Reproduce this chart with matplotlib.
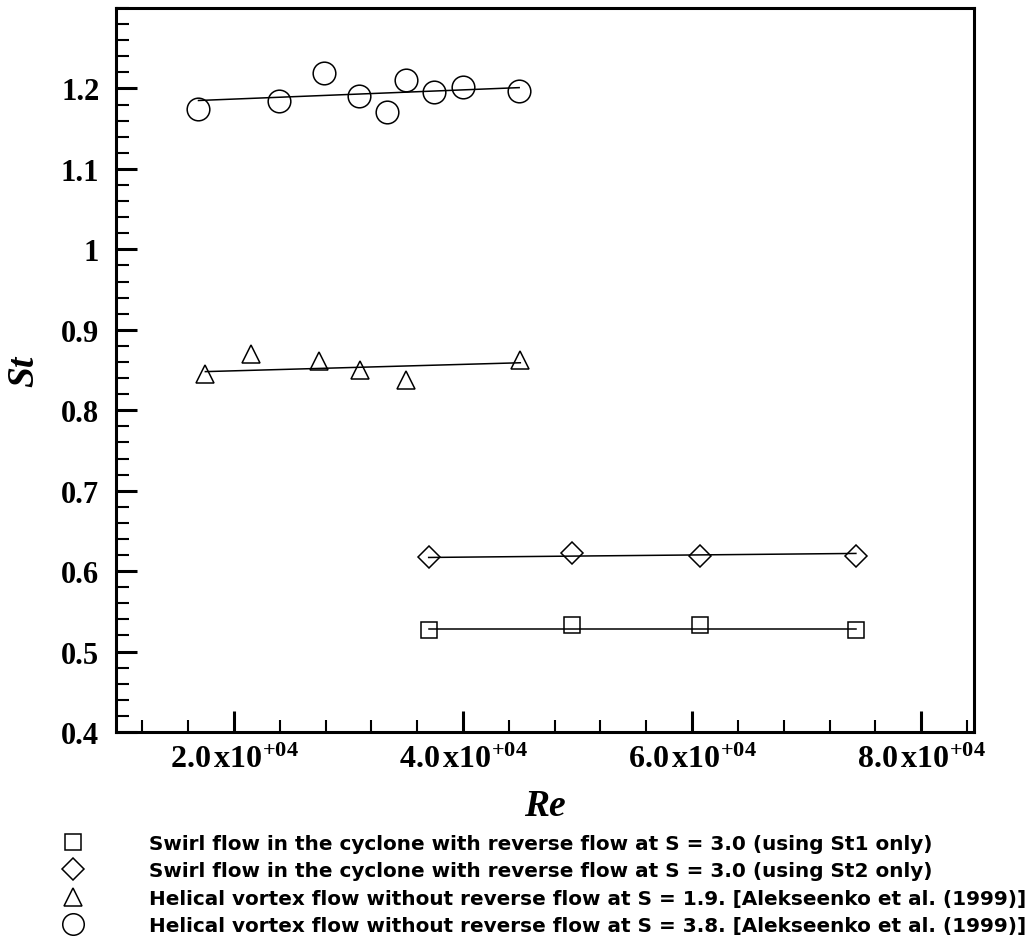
import matplotlib
matplotlib.use("Agg")
import matplotlib.pyplot as plt
from matplotlib.lines import Line2D
from matplotlib.ticker import FixedLocator, MultipleLocator, FuncFormatter

# Strouhal number vs Reynolds number, four flow configurations
re_square = [37000, 49500, 60700, 74300]
st_square = [0.527, 0.533, 0.533, 0.527]
fit_square = [0.528, 0.528]

re_diamond = [37000, 49500, 60700, 74300]
st_diamond = [0.618, 0.623, 0.619, 0.619]
fit_diamond = [0.617, 0.622]

re_triangle = [17500, 21500, 27400, 31000, 35000, 45000]
st_triangle = [0.845, 0.870, 0.861, 0.850, 0.838, 0.862]
fit_triangle = [0.848, 0.859]

re_circle = [16900, 23900, 27900, 30900, 33400, 35000, 37500, 40000, 44900]
st_circle = [1.174, 1.184, 1.219, 1.191, 1.171, 1.210, 1.196, 1.202, 1.197]
fit_circle = [1.185, 1.201]

legend_labels = [
    "Swirl flow in the cyclone with reverse flow at S = 3.0 (using St1 only)",
    "Swirl flow in the cyclone with reverse flow at S = 3.0 (using St2 only)",
    "Helical vortex flow without reverse flow at S = 1.9. [Alekseenko et al. (1999)]",
    "Helical vortex flow without reverse flow at S = 3.8. [Alekseenko et al. (1999)]",
]

plt.rcParams['mathtext.fontset'] = 'custom'
plt.rcParams['mathtext.rm'] = 'Liberation Serif'
plt.rcParams['mathtext.bf'] = 'Liberation Serif:bold'
plt.rcParams['mathtext.it'] = 'Liberation Serif:italic'

fig = plt.figure(figsize=(10.36, 9.45), dpi=100)
ax = fig.add_axes([0.112, 0.2243, 0.828, 0.7662])

series = [
    (re_square, st_square, fit_square, dict(marker='s', markersize=11.5)),
    (re_diamond, st_diamond, fit_diamond, dict(marker='D', markersize=11.5)),
    (re_triangle, st_triangle, fit_triangle, dict(marker='^', markersize=13)),
    (re_circle, st_circle, fit_circle, dict(marker='o', markersize=16.3)),
]

handles = []
for re, st, fit, mk in series:
    # straight fit through each group, spanning its Re range
    ax.plot([min(re), max(re)], fit, color='black', linewidth=1.1, zorder=2)
    ax.plot(re, st, linestyle='none', markerfacecolor='none',
            markeredgecolor='black', markeredgewidth=1.1, zorder=3, **mk)
    handles.append(Line2D([], [], linestyle='none', markerfacecolor='none',
                          markeredgecolor='black', markeredgewidth=1.1,
                          marker=mk['marker'],
                          markersize=mk['markersize'] * 0.95))

ax.set_xlim(9700, 84600)
ax.set_ylim(0.4, 1.3)

ax.xaxis.set_major_locator(FixedLocator([20000, 40000, 60000, 80000]))
ax.xaxis.set_minor_locator(MultipleLocator(4000))
ax.xaxis.set_major_formatter(FuncFormatter(
    lambda v, p: r'$\mathbf{%.1f\,x10^{+04}}$' % (v / 1e4)))

ax.yaxis.set_major_locator(FixedLocator([0.4, 0.5, 0.6, 0.7, 0.8, 0.9,
                                         1.0, 1.1, 1.2]))
ax.yaxis.set_minor_locator(MultipleLocator(0.02))
ax.yaxis.set_major_formatter(FuncFormatter(lambda v, p: '%g' % round(v, 2)))

ax.tick_params(which='major', direction='in', length=15, width=2.2,
               labelsize=22, pad=12)
ax.tick_params(which='minor', direction='in', length=9, width=1.5)
ax.tick_params(axis='x', which='major', pad=8, labelsize=23)
for lab in ax.get_yticklabels():
    lab.set_fontfamily('Liberation Serif')
    lab.set_fontweight('bold')

for sp in ax.spines.values():
    sp.set_linewidth(2.2)

ax.set_xlabel('Re', fontfamily='Liberation Serif', fontstyle='italic',
              fontweight='bold', fontsize=27, labelpad=10)
ax.set_ylabel('St', fontfamily='Liberation Serif', fontstyle='italic',
              fontweight='bold', fontsize=27, labelpad=14)

fig.legend(handles, legend_labels, loc='upper left',
           bbox_to_anchor=(0.0512, 0.1165), frameon=False,
           prop=dict(family='DejaVu Sans', weight='bold', size=14.4),
           handlelength=2.0, handletextpad=2.8, labelspacing=0.42,
           borderpad=0, borderaxespad=0)

fig.savefig('out.png', dpi=100)
